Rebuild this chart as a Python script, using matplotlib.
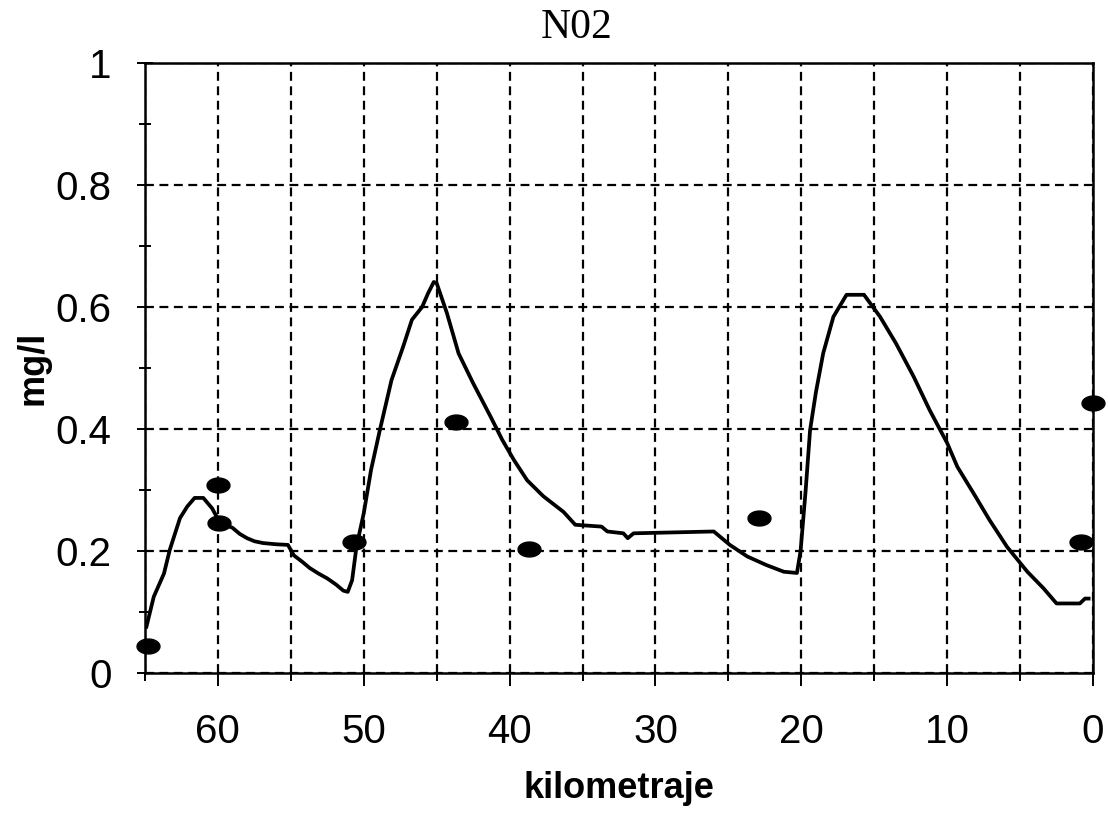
import numpy as np
import matplotlib
matplotlib.use("Agg")
import matplotlib.pyplot as plt
from matplotlib.path import Path
from matplotlib.ticker import MultipleLocator

# Simulated NO2 profile along the river (km from mouth)
model_km = [64.9, 64.4, 63.7, 63.3, 62.6, 62.1, 61.6, 61.0, 60.4, 59.9, 59.5, 59.0,
            58.5, 58.0, 57.5, 56.9, 56.0, 55.2, 54.8, 54.2, 53.7, 53.1, 52.5, 51.9,
            51.4, 51.1, 50.8, 50.5, 50.0, 49.5, 48.9, 48.1, 47.3, 46.7, 46.0, 45.6,
            45.2, 45.0, 44.3, 43.5, 42.5, 41.3, 40.5, 39.7, 38.8, 37.7, 36.3, 35.5,
            33.7, 33.3, 32.2, 31.9, 31.5, 26.0, 24.9, 23.7, 22.4, 21.2, 20.3, 20.05,
            19.7, 19.4, 19.0, 18.5, 17.8, 16.9, 15.7, 14.6, 13.5, 12.3, 11.2, 10.0,
            9.3, 8.2, 7.1, 5.9, 4.5, 3.4, 2.5, 0.9, 0.55, 0.3]
model_no2 = [0.076, 0.125, 0.163, 0.202, 0.254, 0.273, 0.287, 0.287, 0.270, 0.248, 0.243, 0.238,
             0.228, 0.221, 0.216, 0.213, 0.211, 0.210, 0.193, 0.182, 0.172, 0.163, 0.155, 0.145,
             0.135, 0.133, 0.152, 0.207, 0.262, 0.333, 0.398, 0.480, 0.535, 0.579, 0.600, 0.622,
             0.641, 0.639, 0.590, 0.524, 0.475, 0.420, 0.382, 0.349, 0.316, 0.290, 0.264, 0.243,
             0.240, 0.232, 0.229, 0.221, 0.229, 0.232, 0.210, 0.191, 0.177, 0.166, 0.164, 0.200,
             0.300, 0.398, 0.460, 0.524, 0.584, 0.620, 0.620, 0.584, 0.540, 0.486, 0.431, 0.377,
             0.338, 0.295, 0.251, 0.207, 0.166, 0.139, 0.114, 0.114, 0.122, 0.122]

# Measured samples
obs_km = [64.8, 60.0, 59.9, 50.7, 43.7, 38.7, 22.9, 0.0, 0.8]
obs_no2 = [0.045, 0.309, 0.246, 0.215, 0.412, 0.204, 0.254, 0.443, 0.214]

x_ticks = [60, 50, 40, 30, 20, 10, 0]
y_ticks = [0, 0.2, 0.4, 0.6, 0.8, 1]
y_tick_labels = ["0", "0.2", "0.4", "0.6", "0.8", "1"]

# Flattened ellipse marker
theta = np.linspace(0, 2 * np.pi, 60)
ellipse = Path(np.column_stack([np.cos(theta), 0.65 * np.sin(theta)]), closed=True)

fig = plt.figure(figsize=(11.08, 8.17), dpi=100)
ax = fig.add_axes([145 / 1108, 1 - 673 / 817, (1093 - 145) / 1108, (673 - 63) / 817])

ax.plot(model_km, model_no2, color="black", lw=2.7, zorder=3)
ax.plot(obs_km, obs_no2, linestyle="none", marker=ellipse, markersize=16.5,
        color="black", zorder=4, clip_on=False)

ax.set_xlim(65, 0)
ax.set_ylim(0, 1)

ax.set_xticks(x_ticks)
ax.set_xticklabels([str(v) for v in x_ticks])
ax.xaxis.set_minor_locator(MultipleLocator(5))
ax.set_yticks(y_ticks)
ax.set_yticklabels(y_tick_labels)
ax.yaxis.set_minor_locator(MultipleLocator(0.1))

grid_style = dict(color="black", linestyle=(0, (4, 2.5)), linewidth=1.6)
ax.xaxis.grid(True, which="both", **grid_style)
ax.yaxis.grid(True, which="major", **grid_style)
ax.set_axisbelow(True)

for s in ax.spines.values():
    s.set_linewidth(1.8)

for lab in ax.get_xticklabels() + ax.get_yticklabels():
    lab.set_fontfamily("Liberation Sans")
    lab.set_fontsize(29)

ax.tick_params(axis="x", which="major", direction="out", length=9, width=1.4, pad=20)
ax.tick_params(axis="x", which="minor", direction="out", length=6, width=1.4)
ax.tick_params(axis="y", which="major", direction="inout", length=12, width=1.4, pad=18)
ax.tick_params(axis="y", which="minor", direction="inout", length=8, width=1.4)

ax.set_xlabel("kilometraje", family="Liberation Sans", fontweight="bold", fontsize=26, labelpad=14)
ax.set_ylabel("mg/l", family="Liberation Sans", fontweight="bold", fontsize=26, labelpad=4)

fig.text(577 / 1108, 1 - 8 / 817, "N02", family="Liberation Serif", fontsize=30,
         ha="center", va="top")

fig.savefig("out.png", dpi=100, facecolor="white")
